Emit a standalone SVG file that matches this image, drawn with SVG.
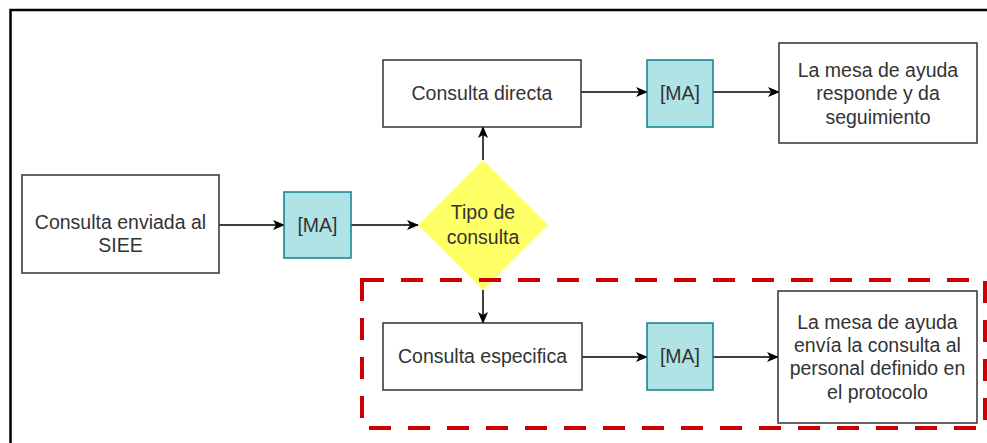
<svg xmlns="http://www.w3.org/2000/svg" width="987" height="443" viewBox="0 0 987 443">
<style>
.box{fill:#ffffff;stroke:#333333;stroke-width:1.5}
.ma{fill:#b0e3e6;stroke:#0e8088;stroke-width:1.5}
.dec{fill:#ffff66;stroke:none}
.t{font-family:"Liberation Sans",Arial,sans-serif;font-size:19.5px;fill:#333333;text-anchor:middle}
.c{fill:none;stroke:#000000;stroke-width:1.5}
</style>
<defs>
<marker id="ah" viewBox="0 0 12 10" refX="11" refY="5" markerWidth="12" markerHeight="10" markerUnits="userSpaceOnUse" orient="auto">
<path d="M0,0 L12,5 L0,10 L3,5 Z" fill="#000000"/>
</marker>
</defs>
<rect width="987" height="443" fill="#ffffff"/>
<path d="M10.5,443 L10.5,10 L987,10" fill="none" stroke="#000000" stroke-width="2.5"/>
<g id="connectors">
<line class="c" x1="219" y1="225" x2="284" y2="225" marker-end="url(#ah)"/>
<line class="c" x1="351" y1="225" x2="418" y2="225" marker-end="url(#ah)"/>
<line class="c" x1="483" y1="160" x2="483" y2="127" marker-end="url(#ah)"/>
<line class="c" x1="483" y1="290" x2="483" y2="323" marker-end="url(#ah)"/>
<line class="c" x1="581" y1="92" x2="647" y2="92" marker-end="url(#ah)"/>
<line class="c" x1="713" y1="92" x2="779" y2="92" marker-end="url(#ah)"/>
<line class="c" x1="582" y1="357" x2="647" y2="357" marker-end="url(#ah)"/>
<line class="c" x1="713" y1="357" x2="778" y2="357" marker-end="url(#ah)"/>
</g>
<g id="n-enviada">
<rect class="box" x="22" y="175" width="197" height="98"/>
<text class="t" x="120.5" y="229">Consulta enviada al</text>
<text class="t" x="120.5" y="252">SIEE</text>
</g>
<g id="n-ma1">
<rect class="ma" x="284" y="192" width="67" height="66"/>
<text class="t" x="317.5" y="232">[MA]</text>
</g>
<g id="n-tipo">
<polygon class="dec" points="483,160 548,225 483,290 418,225"/>
<text class="t" x="483" y="219">Tipo de</text>
<text class="t" x="483" y="244">consulta</text>
</g>
<g id="n-directa">
<rect class="box" x="383" y="60" width="198" height="67"/>
<text class="t" x="482" y="100">Consulta directa</text>
</g>
<g id="n-ma2">
<rect class="ma" x="647" y="60" width="66" height="67"/>
<text class="t" x="680" y="100">[MA]</text>
</g>
<g id="n-responde">
<rect class="box" x="779" y="43" width="198" height="100"/>
<text class="t" x="878" y="77">La mesa de ayuda</text>
<text class="t" x="878" y="100">responde y da</text>
<text class="t" x="878" y="124">seguimiento</text>
</g>
<g id="n-especifica">
<rect class="box" x="383" y="323" width="199" height="67"/>
<text class="t" x="482.5" y="363">Consulta especifica</text>
</g>
<g id="n-ma3">
<rect class="ma" x="647" y="323" width="66" height="67"/>
<text class="t" x="680" y="363">[MA]</text>
</g>
<g id="n-envia">
<rect class="box" x="778" y="291" width="199" height="132"/>
<text class="t" x="877.5" y="329">La mesa de ayuda</text>
<text class="t" x="877.5" y="352">envía la consulta al</text>
<text class="t" x="877.5" y="375">personal definido en</text>
<text class="t" x="877.5" y="399">el protocolo</text>
</g>
<g id="grupo-especifica">
<rect x="362" y="280" width="623" height="148" fill="none" stroke="#cc0000" stroke-width="4" stroke-dasharray="22,17"/>
</g>
</svg>
